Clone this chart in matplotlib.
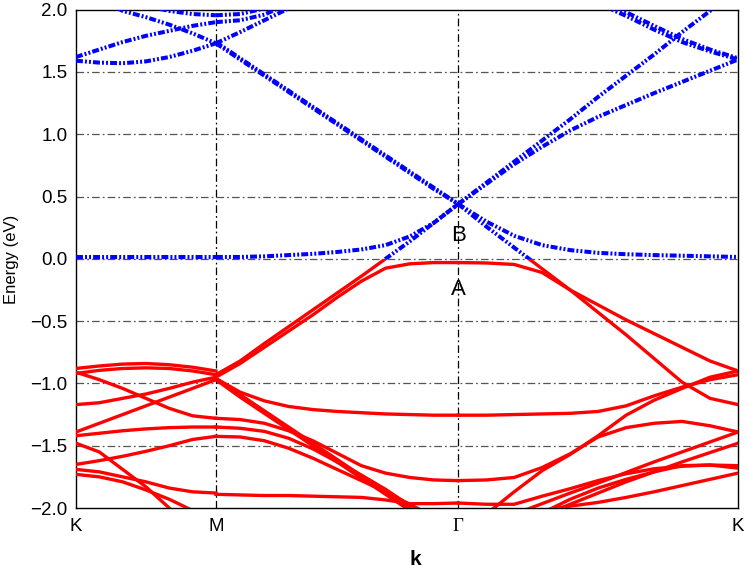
import numpy as np
import matplotlib
matplotlib.use("Agg")
import matplotlib.pyplot as plt
from matplotlib.patches import Rectangle
from matplotlib.ticker import FuncFormatter

plt.rcParams["font.family"] = ["Liberation Sans", "DejaVu Sans"]
plt.rcParams["lines.scale_dashes"] = False

nan = np.nan
s3 = np.sqrt(3)

# path K - M - Gamma - K (hexagonal BZ, lengths in units of |Gamma-M|)
k_nodes = [0.0, 1 / s3, 1 + 1 / s3, 1 + s3]
k_labels = ["K", "M", "Γ", "K"]

# energies (eV) on an even grid inside each segment
km_bands = [
    [-0.88, -0.86, -0.845, -0.84, -0.85, -0.87, -0.90],
    [-0.92, -0.895, -0.88, -0.875, -0.88, -0.90, -0.93],
    [-0.91, -0.97, -1.04, -1.12, -1.20, -1.26, -1.28],
    [-1.17, -1.155, -1.12, -1.085, -1.04, -0.99, -0.95],
    [-1.39, -1.32, -1.25, -1.18, -1.11, -1.04, -0.97],
    [-1.42, -1.40, -1.38, -1.365, -1.355, -1.35, -1.35],
    [-1.65, -1.62, -1.585, -1.545, -1.50, -1.45, -1.425],
    [-1.48, -1.55, -1.69, -1.83, -2.0, -2.17, nan],
    [-1.69, -1.71, -1.75, -1.79, -1.84, -1.87, -1.88],
    [-1.73, -1.75, -1.79, -1.855, -1.93, -2.02, nan],
    [0.015, 0.015, 0.015, 0.015, 0.015, 0.015, 0.015],
    [1.59, 1.575, 1.57, 1.585, 1.62, 1.67, 1.73],
    [1.62, 1.68, 1.74, 1.79, 1.83, 1.87, 1.90],
    [nan, 2.10, 1.99, 1.94, 1.88, 1.81, 1.73],
    [nan, nan, 2.10, 2.03, 1.99, 1.965, 1.955],
]

mg_bands = [
    [1.73, 1.82, 1.915, 2.01, nan, nan, nan, nan, nan, nan, nan],
    [1.90, 1.915, 1.96, 2.05, nan, nan, nan, nan, nan, nan, nan],
    [1.955, 1.965, 2.01, nan, nan, nan, nan, nan, nan, nan, nan],
    [1.73, 1.60, 1.47, 1.34, 1.21, 1.08, 0.95, 0.82, 0.69, 0.56, 0.44],
    [1.74, 1.61, 1.48, 1.35, 1.22, 1.09, 0.96, 0.83, 0.70, 0.57, 0.44],
    [0.015, 0.015, 0.02, 0.03, 0.04, 0.055, 0.075, 0.11, 0.18, 0.29, 0.44],
    [-0.93, -0.82, -0.68, -0.545, -0.41, -0.275, -0.14, 0.0, 0.14, 0.29, 0.44],
    [-0.95, -0.84, -0.71, -0.58, -0.45, -0.31, -0.18, -0.075, -0.04, -0.03, -0.03],
    [-0.96, -1.07, -1.14, -1.185, -1.21, -1.225, -1.235, -1.245, -1.25, -1.255, -1.255],
    [-0.96, -1.09, -1.22, -1.35, -1.48, -1.61, -1.74, -1.87, -2.0, -2.13, nan],
    [-0.97, -1.11, -1.24, -1.37, -1.50, -1.63, -1.76, -1.89, -2.02, nan, nan],
    [-1.28, -1.29, -1.32, -1.38, -1.46, -1.56, -1.66, -1.72, -1.755, -1.775, -1.78],
    [-1.35, -1.36, -1.385, -1.44, -1.525, -1.63, -1.735, -1.85, -1.98, -2.1, nan],
    [-1.425, -1.43, -1.46, -1.52, -1.60, -1.69, -1.78, -1.87, -1.97, -2.07, nan],
    [-1.89, -1.895, -1.90, -1.90, -1.905, -1.91, -1.915, -1.935, -1.965, -1.965, -1.96],
]

gk_bands = [
    [0.44, 0.26, 0.09, -0.08, -0.25, -0.43, -0.61, -0.80, -0.99, -1.12, -1.17],
    [0.44, 0.30, 0.185, 0.11, 0.07, 0.048, 0.037, 0.03, 0.025, 0.02, 0.015],
    [0.44, 0.61, 0.78, 0.95, 1.12, 1.30, 1.47, 1.64, 1.82, 1.99, 2.16],
    [0.44, 0.60, 0.76, 0.90, 1.03, 1.14, 1.235, 1.33, 1.42, 1.51, 1.60],
    [nan, nan, nan, nan, 2.15, 2.05, 1.95, 1.84, 1.74, 1.665, 1.60],
    [nan, nan, nan, nan, 2.2, 2.08, 1.98, 1.87, 1.765, 1.68, 1.61],
    [-0.03, -0.033, -0.045, -0.11, -0.25, -0.37, -0.49, -0.60, -0.71, -0.82, -0.90],
    [-1.255, -1.255, -1.25, -1.245, -1.24, -1.225, -1.18, -1.10, -1.03, -0.97, -0.93],
    [nan, -2.05, -1.87, -1.70, -1.57, -1.42, -1.255, -1.135, -1.04, -0.95, -0.90],
    [-1.78, -1.775, -1.755, -1.675, -1.565, -1.43, -1.355, -1.32, -1.305, -1.34, -1.39],
    [nan, nan, -2.05, -1.965, -1.88, -1.80, -1.715, -1.63, -1.55, -1.47, -1.39],
    [nan, nan, nan, -2.06, -1.97, -1.88, -1.79, -1.71, -1.63, -1.555, -1.48],
    [-1.96, -1.97, -1.97, -1.905, -1.845, -1.78, -1.725, -1.685, -1.665, -1.655, -1.66],
    [nan, nan, nan, -2.04, -1.93, -1.84, -1.77, -1.71, -1.66, -1.655, -1.68],
    [nan, nan, nan, -2.02, -1.985, -1.955, -1.915, -1.87, -1.82, -1.77, -1.72],
]

labels_AB = [("B", 0.19), ("A", -0.245)]

fig, ax = plt.subplots(figsize=(7.47, 5.69), dpi=100)
fig.subplots_adjust(left=0.1017, right=0.988, bottom=0.1072, top=0.983)

ax.set_xlim(k_nodes[0], k_nodes[-1])
ax.set_ylim(-2.0, 2.0)

# occupied part red, empty part blue
below = Rectangle((k_nodes[0], -2.0), k_nodes[-1] - k_nodes[0], 2.0, transform=ax.transData)
above = Rectangle((k_nodes[0], 0.0), k_nodes[-1] - k_nodes[0], 2.0, transform=ax.transData)

for i, bands in enumerate([km_bands, mg_bands, gk_bands]):
    for e in bands:
        k = np.linspace(k_nodes[i], k_nodes[i + 1], len(e))
        e = np.array(e, dtype=float)
        red, = ax.plot(k, e, color="#ff0000", lw=2.4, zorder=3)
        red.set_clip_path(below)
        blue, = ax.plot(k, e, color="#0000ff", lw=2.9,
                        ls=(0, (5, 1.5, 1.4, 1.5, 1.4, 1.5)), zorder=3)
        blue.set_clip_path(above)

yt = np.arange(-2.0, 2.01, 0.5)
ax.set_yticks(yt)
ax.yaxis.set_major_formatter(FuncFormatter(lambda v, p: f"{v:.1f}".replace("-", "\u2212")))
ax.set_xticks(k_nodes)
ax.set_xticklabels(k_labels)
ax.get_xticklabels()[2].set_fontfamily("Liberation Serif")
ax.tick_params(length=0, labelsize=13.5)
ax.tick_params(axis="y", pad=6)
ax.tick_params(axis="x", pad=7)

for e in yt[1:-1]:
    ax.axhline(e, color="#555555", lw=0.9, ls=(0, (5.5, 2.2, 1.3, 2.2)), zorder=1)
for k in k_nodes[1:3]:
    ax.axvline(k, color="black", lw=0.9, ls=(0, (5.5, 2.2, 1.3, 2.2)), zorder=1)

for txt, e in labels_AB:
    ax.text(k_nodes[2], e, txt, fontsize=16, ha="center", va="center", zorder=4)

ax.set_ylabel("Energy (eV)", fontsize=12)
ax.yaxis.set_label_coords(-0.086, 0.498)
ax.set_xlabel("k", fontsize=15, fontweight="bold")
ax.xaxis.set_label_coords(0.512, -0.084)

for sp in ax.spines.values():
    sp.set_linewidth(1.0)

fig.savefig("out.png", dpi=100, facecolor="white")
